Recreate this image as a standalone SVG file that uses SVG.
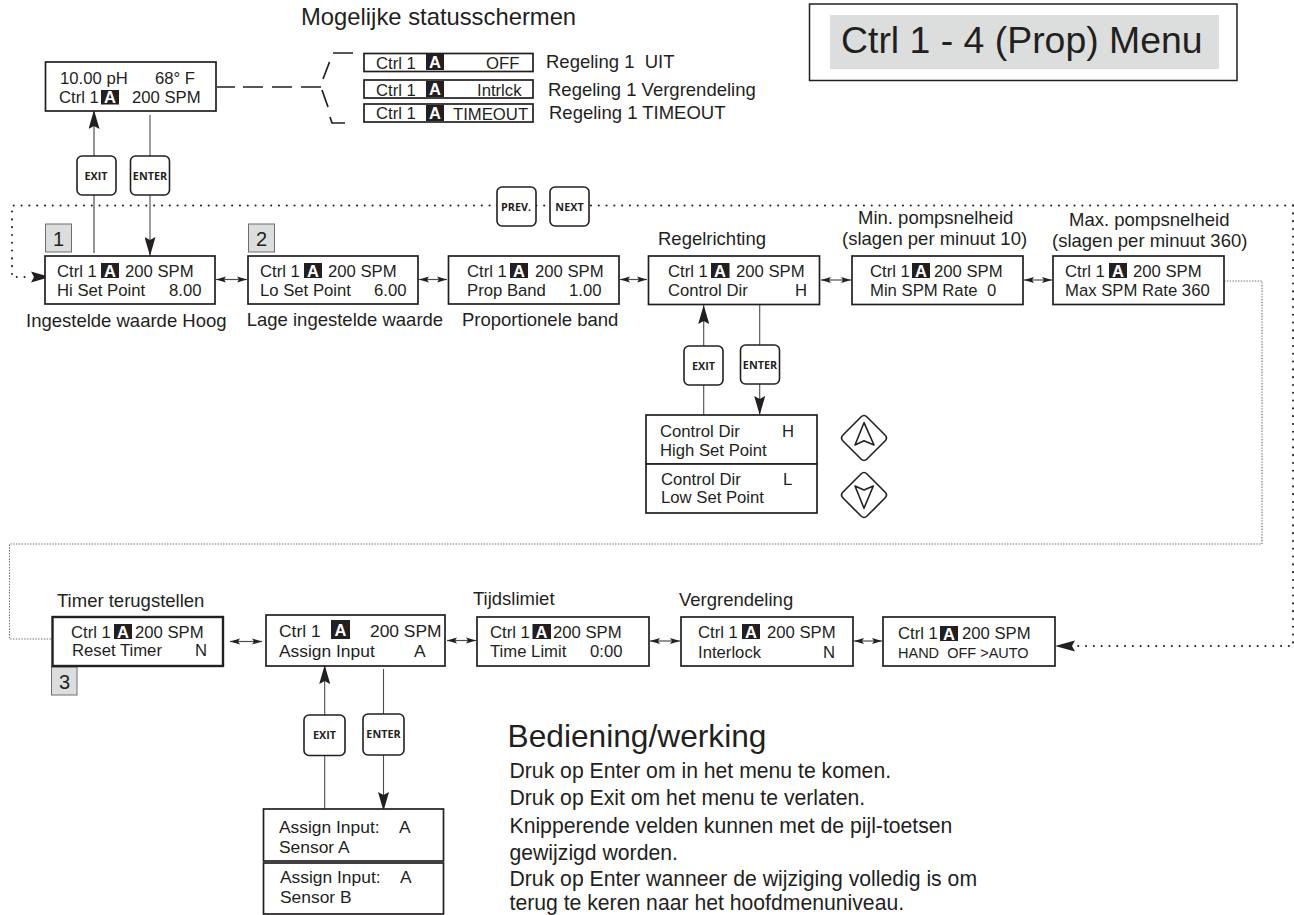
<svg xmlns="http://www.w3.org/2000/svg" width="1294" height="915" viewBox="0 0 1294 915">
<style>
text{font-family:"Liberation Sans",Arial,sans-serif;fill:#231f20}
.t{font-size:16.7px}
.t2{font-size:17.4px}
.l{font-size:18.5px}
.box{fill:#fff;stroke:#231f20;stroke-width:1.7}
.thick{stroke-width:2.4}
.badge{fill:#231f20}
.bt{font-size:16.500px;font-weight:bold;fill:#fff;text-anchor:middle}
.btn{fill:#fff;stroke:#231f20;stroke-width:1.6}
.bl{font-family:"Open Sans",sans-serif;font-size:10.800px;font-weight:bold;text-anchor:middle}
.num{fill:#dcdddd;stroke:#6d6e70;stroke-width:1}
.nt{font-size:20px;text-anchor:middle}
.ln{fill:none;stroke:#4d4d4f;stroke-width:1.1}
.lnb{fill:none;stroke:#808080;stroke-width:1.7}
.dbl{fill:none;stroke:#4d4d4f;stroke-width:1.2;marker-start:url(#sm);marker-end:url(#sm)}
.dot{fill:none;stroke:#231f20;stroke-width:2;stroke-linecap:round;stroke-dasharray:.1 7.7}
.thin{fill:none;stroke:#6d6e70;stroke-width:1.1;stroke-dasharray:1.4 1.4}
.dash{fill:none;stroke:#231f20;stroke-width:1.7}
.head{fill:#231f20}
.dia{fill:#fff;stroke:#231f20;stroke-width:1.6;stroke-linejoin:round}
.bod{font-size:21.200px}
</style>
<defs>
<marker id="sm" viewBox="0 0 10 7" refX="10" refY="3.500" markerWidth="10" markerHeight="7" markerUnits="userSpaceOnUse" orient="auto-start-reverse"><path d="M0 .5L10 3.500L0 6.500L2 3.500Z" fill="#231f20"/></marker>
<marker id="big" viewBox="0 0 19 11" refX="19" refY="5.500" markerWidth="19" markerHeight="11" markerUnits="userSpaceOnUse" orient="auto"><path d="M0 0L19 5.500L0 11L3 5.500Z" fill="#231f20"/></marker>
</defs>
<g id="connectors">
<path class="lnb" d="M94 253V110" marker-end="url(#big)"/>
<path class="ln" d="M150 115V256" marker-end="url(#big)"/>
<path class="dash" d="M217 87H235M243 87H263M272 87H292M301 87H321M323 79L329.500 62M333 53H353M322 90L328 107M330 117L332 123H345"/>
<path class="dot" d="M1293 205.500H12V277H31"/>
<path class="dot" d="M1293 205.500V646H1076"/>
<path class="head" d="M50 277L31 271.500L34 277L31 282.500Z"/>
<path class="head" d="M1055 646L1075 640.500L1072 646L1075 651.500Z"/>
<path class="thin" d="M1224 281H1262V544H9.500V639H52"/>
<path class="dbl" d="M216 279.500H247"/>
<path class="dbl" d="M419 279.500H447"/>
<path class="dbl" d="M620 279.500H647"/>
<path class="dbl" d="M821 280H851"/>
<path class="dbl" d="M1024 280H1052"/>
<path class="ln" d="M703.700 415V305" marker-end="url(#big)"/>
<path class="ln" d="M759.700 305V415" marker-end="url(#big)"/>
<path class="dbl" d="M230 641.500H262"/>
<path class="dbl" d="M447 640.500H476"/>
<path class="dbl" d="M650 641H680"/>
<path class="dbl" d="M854 641H882"/>
<path class="ln" d="M324.700 809V665" marker-end="url(#big)"/>
<path class="ln" d="M383.500 669V811" marker-end="url(#big)"/>
</g>
<g id="title"><rect x="809.500" y="4" width="427.500" height="76.500" fill="#fff" stroke="#231f20" stroke-width="1.5"/><rect x="830" y="15" width="389" height="54" fill="#dcdddd"/><text x="841" y="53" font-size="37.400">Ctrl 1 - 4 (Prop) Menu</text></g>
<text x="301" y="25" font-size="23.800">Mogelijke statusschermen</text>
<g id="main"><rect class="box" x="45.500" y="62" width="170.500" height="49"/><text class="t" x="60" y="84">10.00 pH</text><text class="t" x="155" y="84">68° F</text><text class="t" x="59" y="103">Ctrl 1</text><rect class="badge" x="101" y="90" width="18" height="14.500"/><text class="bt" x="110" y="103">A</text><text class="t" x="132" y="103">200 SPM</text></g>
<g id="status-off"><rect class="box" x="364" y="53.500" width="169" height="18"/><text class="t" x="376" y="69">Ctrl 1</text><rect class="badge" x="426" y="54" width="18" height="16"/><text class="bt" x="435" y="68">A</text><text class="t" x="486" y="69">OFF</text></g>
<g id="status-intrlck"><rect class="box" x="364" y="80" width="169" height="18"/><text class="t" x="376" y="96">Ctrl 1</text><rect class="badge" x="426" y="81" width="18" height="16"/><text class="bt" x="435" y="95">A</text><text class="t" x="477" y="96">Intrlck</text></g>
<g id="status-timeout"><rect class="box" x="364" y="104" width="169" height="18"/><text class="t" x="376" y="119">Ctrl 1</text><rect class="badge" x="426" y="105" width="18" height="16"/><text class="bt" x="435" y="119">A</text><text class="t" x="453" y="119.500" font-size="16.500">TIMEOUT</text></g>
<text class="l" x="546" y="68" xml:space="preserve">Regeling 1  UIT</text>
<text class="l" x="548" y="96">Regeling 1 Vergrendeling</text>
<text class="l" x="549" y="119">Regeling 1 TIMEOUT</text>
<g id="btn-exit-1"><rect class="btn" x="77" y="156" width="39" height="39" rx="5"/><text class="bl" x="96" y="179.500">EXIT</text></g>
<g id="btn-enter-1"><rect class="btn" x="130.500" y="156" width="39" height="39" rx="5"/><text class="bl" x="150" y="179.500">ENTER</text></g>
<g id="btn-prev"><rect class="btn" x="497" y="187" width="39" height="39" rx="5"/><text class="bl" x="516" y="210.500">PREV.</text></g>
<g id="btn-next"><rect class="btn" x="550" y="187" width="39" height="39" rx="5"/><text class="bl" x="569.500" y="210.500">NEXT</text></g>
<g id="num-1"><rect class="num" x="45.500" y="224" width="26" height="28"/><text class="nt" x="58.500" y="246">1</text></g>
<g id="num-2"><rect class="num" x="248.500" y="224" width="26" height="28"/><text class="nt" x="261.500" y="246">2</text></g>
<g id="num-3"><rect class="num" x="51.500" y="667" width="25.500" height="28"/><text class="nt" x="64.500" y="688.500">3</text></g>
<g id="hi"><rect class="box" x="45" y="256" width="170" height="48"/><text class="t" x="57" y="277">Ctrl 1</text><rect class="badge" x="101" y="263" width="18" height="15"/><text class="bt" x="110" y="276.500">A</text><text class="t" x="125" y="277">200 SPM</text><text class="t" x="57" y="296">Hi Set Point</text><text class="t" x="169" y="296">8.00</text></g>
<g id="lo"><rect class="box" x="248" y="256" width="170" height="48"/><text class="t" x="260" y="277">Ctrl 1</text><rect class="badge" x="304" y="263" width="18" height="15"/><text class="bt" x="313" y="276.500">A</text><text class="t" x="328" y="277">200 SPM</text><text class="t" x="260" y="296">Lo Set Point</text><text class="t" x="374" y="296">6.00</text></g>
<g id="prop"><rect class="box" x="448.500" y="256" width="170.500" height="48"/><text class="t" x="467" y="277">Ctrl 1</text><rect class="badge" x="510" y="263" width="18" height="15"/><text class="bt" x="519" y="276.500">A</text><text class="t" x="535" y="277">200 SPM</text><text class="t" x="467" y="296">Prop Band</text><text class="t" x="569" y="296">1.00</text></g>
<g id="dir"><rect class="box" x="648.500" y="256" width="171" height="48.500"/><text class="t" x="668" y="277">Ctrl 1</text><rect class="badge" x="711" y="263" width="18.500" height="15"/><text class="bt" x="720" y="276.500">A</text><text class="t" x="736" y="277">200 SPM</text><text class="t" x="668" y="296">Control Dir</text><text class="t" x="795" y="296">H</text></g>
<g id="min"><rect class="box" x="852" y="256" width="171" height="48.500"/><text class="t" x="870" y="277">Ctrl 1</text><rect class="badge" x="912" y="263" width="18" height="15"/><text class="bt" x="921" y="276.500">A</text><text class="t" x="934" y="277">200 SPM</text><text class="t" x="870" y="296">Min SPM Rate</text><text class="t" x="987" y="296">0</text></g>
<g id="max"><rect class="box" x="1053" y="256" width="171" height="48.500"/><text class="t" x="1065" y="277">Ctrl 1</text><rect class="badge" x="1109" y="263" width="18" height="15"/><text class="bt" x="1118" y="276.500">A</text><text class="t" x="1133" y="277">200 SPM</text><text class="t" x="1065" y="296">Max SPM Rate 360</text></g>
<text class="l" x="26" y="326.500">Ingestelde waarde Hoog</text>
<text class="l" x="246.700" y="326">Lage ingestelde waarde</text>
<text class="l" x="462" y="326">Proportionele band</text>
<text class="l" x="658" y="245">Regelrichting</text>
<text class="l" x="858" y="224">Min. pompsnelheid</text>
<text class="l" x="842" y="245">(slagen per minuut 10)</text>
<text class="l" x="1069" y="226">Max. pompsnelheid</text>
<text class="l" x="1052" y="247">(slagen per minuut 360)</text>
<g id="btn-exit-2"><rect class="btn" x="684" y="346" width="39" height="39" rx="5"/><text class="bl" x="703.500" y="369.500">EXIT</text></g>
<g id="btn-enter-2"><rect class="btn" x="740.500" y="345" width="39" height="39" rx="5"/><text class="bl" x="760" y="368.500">ENTER</text></g>
<g id="dir-h"><rect class="box" x="646" y="415" width="171" height="49"/><text class="t" x="660" y="437">Control Dir</text><text class="t" x="782" y="437">H</text><text class="t" x="660" y="456">High Set Point</text></g>
<g id="dir-l"><rect class="box" x="646" y="464" width="171" height="49"/><text class="t" x="661" y="485">Control Dir</text><text class="t" x="783" y="485">L</text><text class="t" x="661" y="503">Low Set Point</text></g>
<g id="key-up"><path class="dia" d="M861 417Q864 414 867 417L885 435Q888 438 885 441L867 459Q864 462 861 459L843 441Q840 438 843 435Z"/><path class="dia" d="M864 422.700L855 445L864 440.700L874 445Z"/></g>
<g id="key-down"><path class="dia" d="M861 474Q864 471 867 474L885 492Q888 495 885 498L867 516Q864 519 861 516L843 498Q840 495 843 492Z"/><path class="dia" d="M864 508.300L855 486L864 490L873.300 486Z"/></g>
<text class="l" x="57" y="607">Timer terugstellen</text>
<text class="l" x="473" y="605">Tijdslimiet</text>
<text class="l" x="679" y="606">Vergrendeling</text>
<g id="timer"><rect class="box thick" x="52.500" y="617" width="170.500" height="49"/><text class="t" x="71" y="638">Ctrl 1</text><rect class="badge" x="114" y="624" width="18" height="15"/><text class="bt" x="123" y="638">A</text><text class="t" x="135" y="638">200 SPM</text><text class="t" x="72" y="656">Reset Timer</text><text class="t" x="195" y="656">N</text></g>
<g id="assign"><rect class="box" x="266" y="615" width="179" height="51"/><text class="t2" x="279" y="637">Ctrl 1</text><rect class="badge" x="331" y="620" width="19" height="19"/><text class="bt" x="340.500" y="636">A</text><text class="t2" x="370" y="637">200 SPM</text><text class="t2" x="279" y="657">Assign Input</text><text class="t2" x="414" y="657">A</text></g>
<g id="limit"><rect class="box" x="477" y="617" width="172" height="49"/><text class="t" x="490" y="638">Ctrl 1</text><rect class="badge" x="532.500" y="624" width="18.500" height="15"/><text class="bt" x="541.500" y="638">A</text><text class="t" x="553" y="638">200 SPM</text><text class="t" x="490" y="657">Time Limit</text><text class="t" x="590" y="657">0:00</text></g>
<g id="interlock"><rect class="box" x="681" y="617" width="172" height="49"/><text class="t" x="698" y="638">Ctrl 1</text><rect class="badge" x="742" y="624" width="18" height="15"/><text class="bt" x="751" y="638">A</text><text class="t" x="767" y="638">200 SPM</text><text class="t" x="698" y="658">Interlock</text><text class="t" x="823" y="658">N</text></g>
<g id="hand"><rect class="box" x="883" y="617" width="172" height="49"/><text class="t" x="898" y="639">Ctrl 1</text><rect class="badge" x="940" y="626" width="18" height="15"/><text class="bt" x="949" y="639.500">A</text><text class="t" x="962" y="639">200 SPM</text><text x="898" y="658" font-size="14.500" xml:space="preserve">HAND  OFF &gt;AUTO</text></g>
<g id="btn-exit-3"><rect class="btn" x="304" y="715" width="41" height="40.500" rx="5"/><text class="bl" x="324.500" y="739">EXIT</text></g>
<g id="btn-enter-3"><rect class="btn" x="363" y="714" width="41" height="41" rx="5"/><text class="bl" x="383.500" y="738">ENTER</text></g>
<g id="sensor-a"><rect class="box" x="263.500" y="809" width="180" height="52"/><text class="t2" x="279" y="833">Assign Input:</text><text class="t2" x="399" y="833">A</text><text class="t2" x="279" y="853">Sensor A</text></g>
<g id="sensor-b"><rect class="box" x="263.500" y="863" width="180" height="51"/><text class="t2" x="280" y="883">Assign Input:</text><text class="t2" x="400" y="883">A</text><text class="t2" x="280" y="903">Sensor B</text></g>
<text x="507.500" y="747" font-size="31.700">Bediening/werking</text>
<text class="bod" x="509.500" y="778">Druk op Enter om in het menu te komen.</text>
<text class="bod" x="509.500" y="805">Druk op Exit om het menu te verlaten.</text>
<text class="bod" x="509.500" y="832.500">Knipperende velden kunnen met de pijl-toetsen</text>
<text class="bod" x="509.500" y="859.500">gewijzigd worden.</text>
<text class="bod" x="509.500" y="886">Druk op Enter wanneer de wijziging volledig is om</text>
<text class="bod" x="509.500" y="910">terug te keren naar het hoofdmenuniveau.</text>
</svg>
